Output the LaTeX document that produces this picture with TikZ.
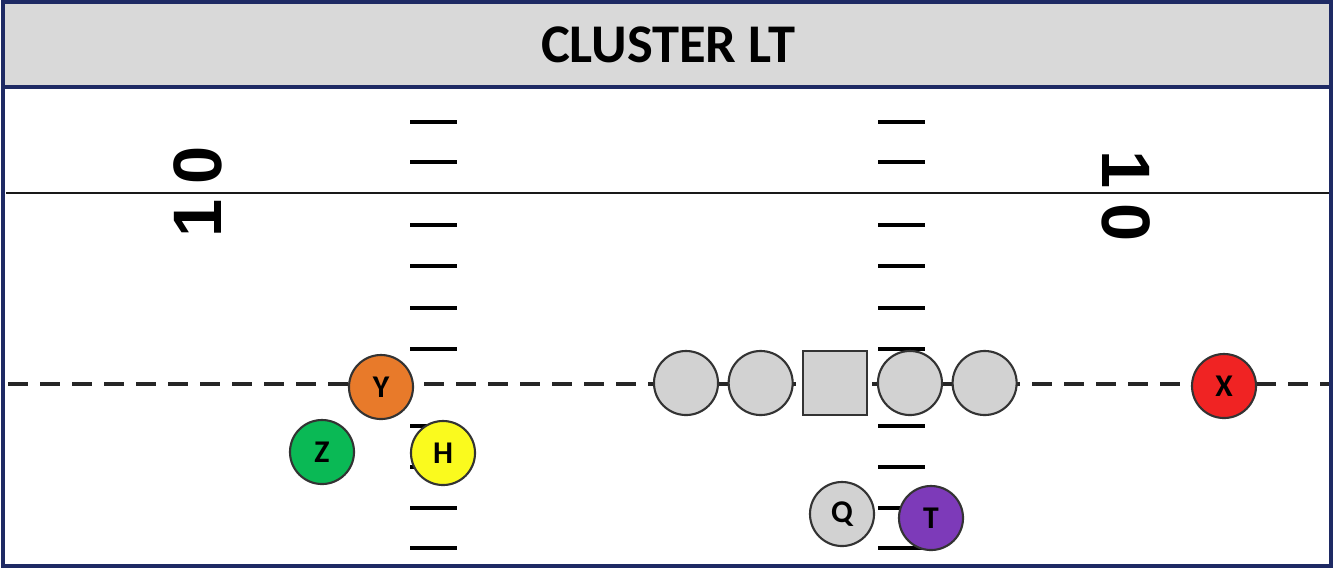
\documentclass[tikz,border=0pt]{standalone}
\usepackage{fontspec}
\setmainfont{Carlito}
\newfontfamily\numfont{Liberation Sans}
\usepackage{xcolor}
\usepackage{tikz}
\usetikzlibrary{positioning}
\definecolor{azulborda}{RGB}{30,42,100}
\definecolor{cinzatitulo}{RGB}{217,217,217}
\definecolor{cinzajog}{RGB}{210,210,210}
\definecolor{laranja}{RGB}{232,122,42}
\definecolor{verde}{RGB}{10,185,85}
\definecolor{amarelo}{RGB}{250,250,30}
\definecolor{vermelho}{RGB}{240,35,35}
\definecolor{roxo}{RGB}{125,58,185}
\tikzset{
  jogador/.style={circle,draw=black!80,line width=0.6pt,fill=cinzajog,minimum size=6.4mm,
    inner sep=0pt,font=\bfseries\fontsize{9}{9}\selectfont},
  centro/.style={rectangle,draw=black!80,line width=0.6pt,fill=cinzajog,minimum size=6.4mm,
    inner sep=0pt},
  marca/.style={line width=1.4pt,black},
  numero/.style={font=\numfont\bfseries\fontsize{19.5}{20}\selectfont},
  scrim/.style={line width=1.1pt,black!85,dash pattern=on 5.7pt off 3.4pt}
}

\begin{document}
\begin{tikzpicture}[x=0.01cm,y=-0.01cm]
\useasboundingbox (0,0) rectangle (1334,569);
% cabecalho
\fill[cinzatitulo] (4,4) rectangle (1330,86);
\draw[azulborda,line width=1.3pt] (4,87) -- (1330,87);
\node[font=\bfseries\fontsize{15.5}{18}\selectfont] (titulo) at (668,45) {CLUSTER LT};
% linha de 10 jardas
\draw[line width=0.8pt,black!90] (6,193) -- (1330,193);
\node[numero,rotate=90] (dezesq) at (198,192) {1\hspace{4pt}0};
\node[numero,rotate=-90] (dezdir) at (1126,196) {1\hspace{4pt}0};
% marcas
\foreach \y in {122,162,225,266,308,349,426,467,508,548} {
  \draw[marca] (410,\y) -- (457,\y);
  \draw[marca] (878,\y) -- (925,\y);
}
% linha de scrimmage
\coordinate (losw) at (8,384);
\coordinate (lose) at (1330,384);
\draw[scrim] (losw) -- (lose);
% linha ofensiva
\node[jogador] (lt) at (686,383) {};
\node[jogador,right=0.85mm of lt] (lg) {};
\node[centro,right=0.85mm of lg] (c) {};
\node[jogador,right=0.85mm of c] (rg) {};
\node[jogador,right=0.85mm of rg] (rt) {};
% recebedores
\node[jogador,fill=laranja] (y) at (381,387) {Y};
\node[jogador,fill=verde] (z) at (322,452) {Z};
\node[jogador,fill=amarelo] (h) at (443,453) {H};
\node[jogador,fill=vermelho] (x) at (1224,386) {X};
\node[jogador] (q) at (842,514) {Q};
\node[jogador,fill=roxo] (t) at (931,518) {T};
% borda
\draw[azulborda,line width=1.2pt] (3,2) rectangle (1331,566);
\end{tikzpicture}
\end{document}
